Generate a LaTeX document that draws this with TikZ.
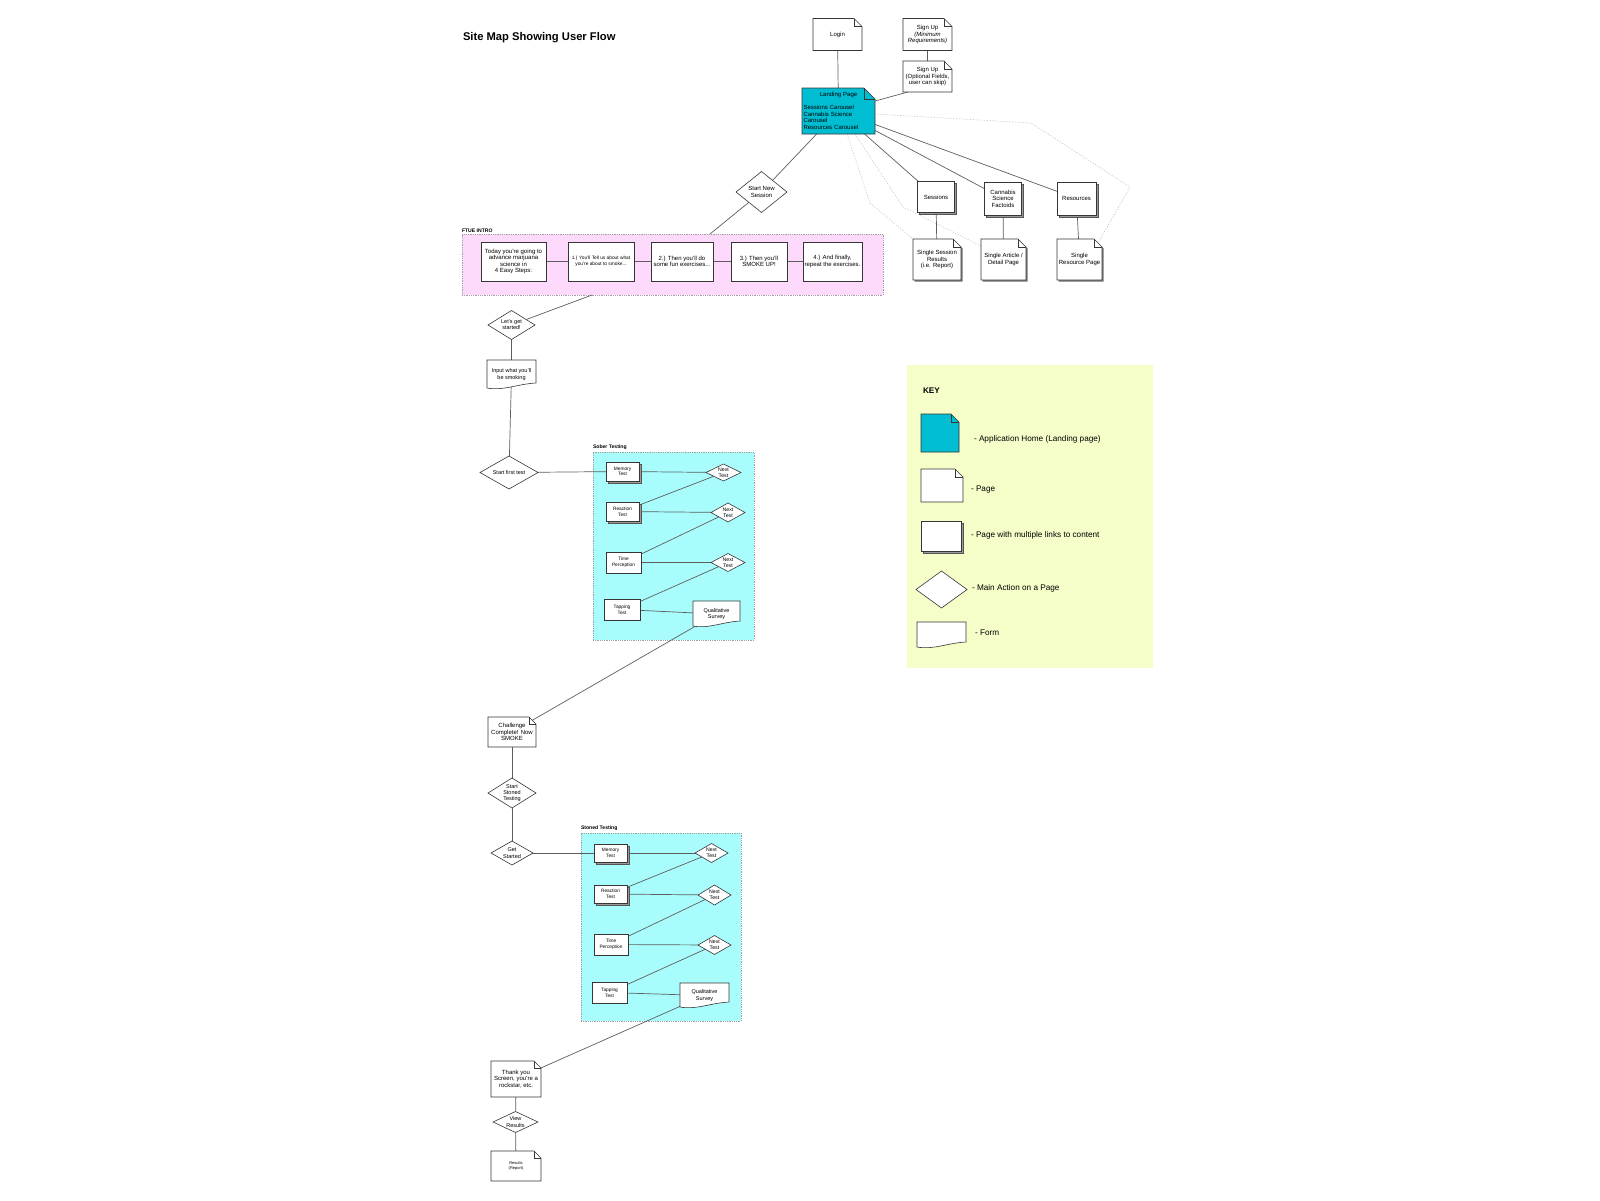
\documentclass[tikz,border=0pt]{standalone}
\usepackage{fontspec}
\setmainfont{Liberation Sans}
\usetikzlibrary{calc}
\pgfdeclarelayer{groups}
\pgfdeclarelayer{links}
\pgfdeclarelayer{shapes}
\pgfsetlayers{groups,links,shapes,main}

\definecolor{edgec}{HTML}{363636}
\definecolor{linkc}{HTML}{5E5E5E}
\definecolor{landc}{HTML}{00BDD1}
\definecolor{pinkc}{HTML}{FDD9FC}
\definecolor{cyanc}{HTML}{A8FCFC}
\definecolor{keyc}{HTML}{F5FDC9}
\definecolor{shadowc}{HTML}{707070}
\definecolor{multic}{HTML}{9A9A9A}
\definecolor{multie}{HTML}{555555}
\definecolor{dotc}{HTML}{C4C4C4}
\definecolor{grpedge}{HTML}{A0A0A0}

\newcommand\fsA{\fontsize{6}{6.6}\selectfont}
\newcommand\fsD{\fontsize{5.5}{6.2}\selectfont}
\newcommand\fsB{\fontsize{4.8}{5.6}\selectfont}
\newcommand\fsC{\fontsize{4.8}{5.6}\selectfont}
\newcommand\fsN{\fontsize{5.2}{5.8}\selectfont}
\newcommand\fsQ{\fontsize{5.5}{6.2}\selectfont}
\newcommand\fsR{\fontsize{4}{4.8}\selectfont}
\newcommand\fsK{\fontsize{8.2}{9.8}\selectfont}
\newcommand\fsG{\fontsize{5.1}{6}\selectfont\bfseries}
\newcommand\fsT{\fontsize{11.2}{13.4}\selectfont\bfseries}

\tikzset{
  nd/.style={inner sep=0pt, outer sep=0pt, align=center, font=\fsA, text=black},
  shp/.style={draw=edgec, line width=0.6pt, line join=miter},
  link/.style={draw=linkc, line width=0.7pt},
  dotlink/.style={draw=dotc, line width=0.6pt, dash pattern=on 1.2pt off 1.6pt},
  grp/.style={inner sep=0pt, outer sep=0pt, draw=grpedge, line width=0.5pt, dash pattern=on 0.8pt off 1pt},
  lbl/.style={inner sep=0pt, outer sep=0pt, font=\fsG, anchor=south west},
  keytxt/.style={inner sep=0pt, outer sep=0pt, font=\fsK, anchor=west}
}

\newcommand\SMpagefill[5]{\path[#1] ([xshift=#4,yshift=#5]#2.south west) -- ([xshift=#4,yshift=#5]#2.south east) -- ([xshift=#4,yshift=#5-#3]#2.north east) -- ([xshift=#4-#3,yshift=#5]#2.north east) -- ([xshift=#4,yshift=#5]#2.north west) -- cycle;}
\newcommand\SMpage[3][white]{\begin{pgfonlayer}{shapes}\SMpagefill{shp,fill=#1}{#2}{#3}{0pt}{0pt}\draw[shp] ([xshift=-#3]#2.north east) -- ([xshift=-#3,yshift=-#3]#2.north east) -- ([yshift=-#3]#2.north east);\end{pgfonlayer}}
\newcommand\SMspage[2]{\begin{pgfonlayer}{shapes}\SMpagefill{fill=shadowc}{#1}{#2}{1.6pt}{-1.6pt}\end{pgfonlayer}\SMpage{#1}{#2}}
\newcommand\SMmulti[1]{\begin{pgfonlayer}{shapes}\filldraw[draw=multie,line width=0.5pt,fill=multic] ([xshift=2.2pt,yshift=-2.2pt]#1.south west) rectangle ([xshift=2.2pt,yshift=-2.2pt]#1.north east);\filldraw[shp,fill=white] (#1.south west) rectangle (#1.north east);\end{pgfonlayer}}
\newcommand\SMrect[1]{\begin{pgfonlayer}{shapes}\filldraw[shp,fill=white] (#1.south west) rectangle (#1.north east);\end{pgfonlayer}}
\newcommand\SMdia[1]{\begin{pgfonlayer}{shapes}\filldraw[shp,fill=white] (#1.north) -- (#1.east) -- (#1.south) -- (#1.west) -- cycle;\end{pgfonlayer}}
\newcommand\SMform[1]{\begin{pgfonlayer}{shapes}\filldraw[shp,fill=white] ([yshift=1pt]#1.south west) -- (#1.north west) -- (#1.north east) -- ([yshift=6pt]#1.south east) .. controls ($(#1.south west)!0.62!(#1.south east)+(0pt,5pt)$) and ($(#1.south west)!0.33!(#1.south east)+(0pt,-2pt)$) .. ([yshift=1pt]#1.south west) -- cycle;\end{pgfonlayer}}

\begin{document}
\begin{tikzpicture}[x=1pt,y=-1pt]
\useasboundingbox (0,0) rectangle (1600,1200);

% ---------- groups / background ----------
\begin{pgfonlayer}{groups}
\fill[white] (0,0) rectangle (1600,1200);
\node[grp, fill=pinkc, minimum width=421pt, minimum height=61pt] (ftue) at (672.5,264.5) {};
\node[grp, fill=cyanc, minimum width=161pt, minimum height=188pt] (sober) at (673.5,546) {};
\node[grp, fill=cyanc, minimum width=160pt, minimum height=188pt] (stoned) at (661,927) {};
\node[inner sep=0pt, outer sep=0pt, fill=keyc, minimum width=246pt, minimum height=303pt] (keybox) at (1030,516.5) {};
\end{pgfonlayer}

% ---------- texts / nodes ----------
\node[nd, font=\fsT, anchor=west] (title) at (463,38) {Site Map Showing User Flow};

\node[nd, minimum width=49pt, minimum height=32pt] (login) at (837.5,34.5) {Login};
\node[nd, minimum width=49pt, minimum height=32pt] (sup1) at (927.5,34.5) {Sign Up\\\textit{(Minimum}\\\textit{Requirements)}};
\node[nd, minimum width=49pt, minimum height=31pt] (sup2) at (927.5,76.5) {Sign Up\\(Optional Fields,\\user can skip)};
\node[nd, minimum width=73pt, minimum height=46pt, text width=70pt, align=left] (landing) at (838.5,111) {\makebox[70pt][c]{Landing Page}\\[6pt]Sessions Carousel\\Cannabis Science\\Carousel\\Resources Carousel};

\node[nd, minimum width=51pt, minimum height=41pt] (sns) at (761.5,192) {Start New\\Session};

\node[lbl] (ftuel) at (462,232.5) {FTUE INTRO};
\node[nd, minimum width=65pt, minimum height=39pt] (f0) at (513.5,261.5) {Today you're going to\\advance marjuana\\science in\\4 Easy Steps:};
\node[nd, minimum width=66pt, minimum height=39pt, font=\fsB] (f1) at (601,261.5) {1.) You'll Tell us about what\\you're about to smoke...};
\node[nd, minimum width=62pt, minimum height=39pt] (f2) at (682,261.5) {2.) Then you'll do\\some fun exercises...};
\node[nd, minimum width=56pt, minimum height=39pt] (f3) at (759,261.5) {3.) Then you'll\\SMOKE UP!};
\node[nd, minimum width=59pt, minimum height=39pt] (f4) at (832.5,261.5) {4.) And finally,\\repeat the exercises.};

\node[nd, minimum width=37pt, minimum height=31pt] (sess) at (936,197) {Sessions};
\node[nd, minimum width=37pt, minimum height=33pt] (cann) at (1003,198.5) {Cannabis\\Science\\Factoids};
\node[nd, minimum width=39pt, minimum height=33pt] (reso) at (1076.5,198.5) {Resources};
\node[nd, minimum width=48pt, minimum height=41pt] (sss) at (937,259.5) {Single Session\\Results\\(i.e. Report)};
\node[nd, minimum width=45pt, minimum height=41pt] (sart) at (1003.5,259.5) {Single Article /\\Detail Page};
\node[nd, minimum width=45pt, minimum height=41pt] (sres) at (1079.5,259.5) {Single\\Resource Page};

\node[nd, font=\fsD, minimum width=47pt, minimum height=29pt] (lgs) at (511.5,325) {Let's get\\started!};
\node[nd, font=\fsD, minimum width=49pt, minimum height=29pt] (inp) at (511.5,374.5) {Input what you'll\\be smoking};
\node[nd, font=\fsD, minimum width=58pt, minimum height=33pt] (sft) at (509,472.5) {Start first test};

\node[lbl] (soberl) at (593,449.5) {Sober Testing};
\node[nd, font=\fsC, minimum width=33pt, minimum height=19pt] (m1) at (622.5,471.5) {Memory\\Test};
\node[nd, font=\fsN, minimum width=35pt, minimum height=17pt] (n1) at (723.5,472.5) {Next\\Test};
\node[nd, font=\fsC, minimum width=33pt, minimum height=19pt] (r1) at (622.5,511.5) {Reaction\\Test};
\node[nd, font=\fsN, minimum width=34pt, minimum height=19pt] (n2) at (728,512.5) {Next\\Test};
\node[nd, font=\fsC, minimum width=35pt, minimum height=21pt] (t1) at (623.5,562.5) {Time\\Perception};
\node[nd, font=\fsN, minimum width=34pt, minimum height=18pt] (n3) at (728,562.5) {Next\\Test};
\node[nd, font=\fsC, minimum width=36pt, minimum height=21pt] (tp1) at (622,609.5) {Tapping\\Test};
\node[nd, font=\fsQ, minimum width=47pt, minimum height=26pt] (q1) at (716.5,614) {Qualitative\\Survey};

\node[nd, minimum width=48pt, minimum height=30pt] (chal) at (512,732) {Challenge\\Complete! Now\\SMOKE};
\node[nd, font=\fsD, minimum width=48pt, minimum height=30pt] (sst) at (512,793) {Start\\Stoned\\Testing};
\node[nd, font=\fsD, minimum width=42pt, minimum height=24pt] (gs) at (512,853) {Get\\Started};

\node[lbl] (stonedl) at (581,830.5) {Stoned Testing};
\node[nd, font=\fsC, minimum width=33pt, minimum height=18pt] (m2) at (610.5,853) {Memory\\Test};
\node[nd, font=\fsN, minimum width=33pt, minimum height=19pt] (na) at (711.5,853) {Next\\Test};
\node[nd, font=\fsC, minimum width=33pt, minimum height=18pt] (r2) at (610.5,894) {Reaction\\Test};
\node[nd, font=\fsN, minimum width=33pt, minimum height=20pt] (nb) at (714.5,895) {Next\\Test};
\node[nd, font=\fsC, minimum width=34pt, minimum height=21pt] (t2) at (611,944.5) {Time\\Perception};
\node[nd, font=\fsN, minimum width=33pt, minimum height=19pt] (nc) at (714.5,945) {Next\\Test};
\node[nd, font=\fsC, minimum width=35pt, minimum height=21pt] (tp2) at (609.5,992.5) {Tapping\\Test};
\node[nd, font=\fsQ, minimum width=49pt, minimum height=25pt] (q2) at (704.5,995.5) {Qualitative\\Survey};

\node[nd, minimum width=50pt, minimum height=36pt] (thx) at (516,1079) {Thank you\\Screen, you're a\\rockstar, etc.};
\node[nd, font=\fsD, minimum width=45pt, minimum height=21pt] (vr) at (515.5,1122) {View\\Results};
\node[nd, font=\fsR, minimum width=50pt, minimum height=30pt] (res) at (516,1166) {Results\\(Report)};

% key
\node[nd, font=\fsK\bfseries, anchor=west] (keyttl) at (923,391) {KEY};
\node[nd, minimum width=38pt, minimum height=38pt] (k1) at (940,433) {};
\node[nd, minimum width=42pt, minimum height=33pt] (k2) at (942,485.5) {};
\node[nd, minimum width=40pt, minimum height=30pt] (k3) at (941,536) {};
\node[nd, minimum width=51pt, minimum height=37pt] (k4) at (941.5,589.5) {};
\node[nd, minimum width=49pt, minimum height=26pt] (k5) at (941.5,635) {};
\node[keytxt] (kt1) at (974,439) {- Application Home (Landing page)};
\node[keytxt] (kt2) at (971,490) {- Page};
\node[keytxt] (kt3) at (971,535) {- Page with multiple links to content};
\node[keytxt] (kt4) at (972,588) {- Main Action on a Page};
\node[keytxt] (kt5) at (975,633) {- Form};

% ---------- shapes ----------
\SMpage{login}{8pt}
\SMpage{sup1}{8pt}
\SMpage{sup2}{8pt}
\SMpage[landc]{landing}{11pt}
\SMdia{sns}
\SMrect{f0}\SMrect{f1}\SMrect{f2}\SMrect{f3}\SMrect{f4}
\SMmulti{sess}\SMmulti{cann}\SMmulti{reso}
\SMspage{sss}{8pt}\SMspage{sart}{8pt}\SMspage{sres}{8pt}
\SMdia{lgs}
\SMform{inp}
\SMdia{sft}
\SMmulti{m1}\SMdia{n1}\SMmulti{r1}\SMdia{n2}\SMrect{t1}\SMdia{n3}\SMrect{tp1}\SMform{q1}
\SMpage{chal}{7pt}
\SMdia{sst}\SMdia{gs}
\SMmulti{m2}\SMdia{na}\SMmulti{r2}\SMdia{nb}\SMrect{t2}\SMdia{nc}\SMrect{tp2}\SMform{q2}
\SMpage{thx}{7pt}
\SMdia{vr}
\SMpage{res}{7pt}
\SMpage[landc]{k1}{8pt}
\SMpage{k2}{8pt}
\SMmulti{k3}
\SMdia{k4}
\SMform{k5}

% ---------- connectors ----------
\begin{pgfonlayer}{links}
\coordinate (d1a) at (1031,123);
\coordinate (d1b) at (1130,187);
\coordinate (d2) at (870,203);
\coordinate (d3) at (903,207);
\draw[dotlink] ([yshift=-3pt]landing.east) -- (d1a) -- (d1b) -- ([xshift=-4pt,yshift=-4pt]sres.north east);
\draw[dotlink] ([xshift=8.5pt]landing.south) -- (d2) -- (sss.north west);
\draw[dotlink] ([xshift=16.5pt]landing.south) -- (d3) -- ([yshift=13.5pt]sart.west);

\draw[link] (login.center) -- (landing.center);
\draw[link] (sup1.center) -- (sup2.center);
\draw[link] (landing.center) -- ([xshift=-19.5pt]sup2.south);
\draw[link] (landing.center) -- (sess.center);
\draw[link] (landing.center) -- (cann.center);
\draw[link] (landing.center) -- (reso.center);
\draw[link] (landing.center) -- (sns.center);
\draw[link] (sns.center) -- ([xshift=37.5pt]ftue.north);
\draw[link] (f0.center) -- (f1.center);
\draw[link] (f1.center) -- (f2.center);
\draw[link] (f2.center) -- (f3.center);
\draw[link] (f3.center) -- (f4.center);
\draw[link] (sess.center) -- (sss.center);
\draw[link] (cann.center) -- (sart.center);
\draw[link] (reso.center) -- (sres.center);
\draw[link] ([xshift=-80.5pt]ftue.south) -- (lgs.center);
\draw[link] (lgs.center) -- (inp.center);
\draw[link] (inp.center) -- (sft.center);
\draw[link] (sft.center) -- (m1.center);
\draw[link] (m1.center) -- (n1.center);
\draw[link] (n1.center) -- (r1.center);
\draw[link] (r1.center) -- (n2.center);
\draw[link] (n2.center) -- (t1.center);
\draw[link] (t1.center) -- (n3.center);
\draw[link] (n3.center) -- (tp1.center);
\draw[link] (tp1.center) -- (q1.center);
\draw[link] (q1.center) -- (chal.center);
\draw[link] (chal.center) -- (sst.center);
\draw[link] (sst.center) -- (gs.center);
\draw[link] (gs.center) -- (m2.center);
\draw[link] (m2.center) -- (na.center);
\draw[link] (na.center) -- (r2.center);
\draw[link] (r2.center) -- (nb.center);
\draw[link] (nb.center) -- (t2.center);
\draw[link] (t2.center) -- (nc.center);
\draw[link] (nc.center) -- (tp2.center);
\draw[link] (tp2.center) -- (q2.center);
\draw[link] (q2.center) -- (thx.center);
\draw[link] (thx.center) -- (vr.center);
\draw[link] (vr.center) -- (res.center);
\end{pgfonlayer}
\end{tikzpicture}
\end{document}
